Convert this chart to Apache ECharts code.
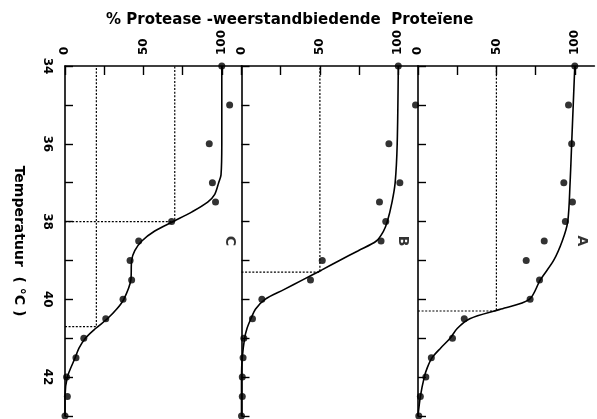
<!DOCTYPE html>
<html>
<head>
<meta charset="utf-8">
<script src="https://cdn.jsdelivr.net/npm/echarts@6/dist/echarts.min.js"></script>
<style>html,body{margin:0;padding:0;background:#fff;}#c{width:597px;height:419px;}</style>
</head>
<body>
<div id="c"></div>
<script>
// ---- data ----
const titleText = '% Protease -weerstandbiedende  Proteïene';
const yName = 'Temperatuur  ( °C )';
const panelNames = ['C', 'B', 'A'];
const tempTicks = [34, 36, 38, 40, 42];
const pctTicks = [0, 50, 100];
const pctMinor = [0, 25, 50, 75, 100];

// measured temperatures (°C)
const temps = [34, 35, 36, 37, 37.5, 38, 38.5, 39, 39.5, 40, 40.5, 41, 41.5, 42, 42.5, 43];
// measured % protease-resistant proteins
const pointsC = [100, 105, 92, 94, 96, 68, 47, 41.5, 42.5, 37, 26, 12, 7, 1, 1.5, 0];
const pointsB = [100, 111, 94, 101, 88, 92, 89, 51.5, 44, 13, 7, 1.5, 1, 0.5, 0.5, 0];
const pointsA = [100, 96, 98, 93, 98.5, 94, 80.5, 69, 77.5, 71.5, 29.5, 22, 8.5, 5, 1.5, 0.5];

// fitted curves
const curveTempsC = [34, 35, 36, 36.8, 37, 37.3, 37.5, 37.75, 38, 38.25, 38.5, 38.75, 39, 39.5, 40, 40.25, 40.5, 40.75, 41, 41.25, 41.5, 42, 42.5, 43];
const curveC = [100, 100, 100, 99.5, 98, 95.5, 91, 81, 69, 57, 49, 44.5, 42.5, 42, 37.5, 33, 27, 19.5, 13, 9, 6.5, 1.5, 0, 0];
const curveTempsB = [34, 36, 37, 37.5, 38, 38.25, 38.5, 38.75, 39, 39.25, 39.5, 39.75, 40, 40.25, 40.5, 40.75, 41, 41.5, 42, 43];
const curveB = [100, 99.3, 98, 96, 93, 90.5, 86, 74.5, 62.5, 51, 39, 27, 15, 9, 6, 3.5, 2, 0.5, 0, 0];
const curveTempsA = [34, 35, 36, 37, 38, 38.5, 39, 39.5, 40, 40.25, 40.5, 40.75, 41, 41.25, 41.5, 41.75, 42, 42.5, 43];
const curveA = [100, 99, 98, 97, 95.5, 92, 86.5, 78, 71, 53, 33, 25, 20.5, 14.5, 9, 6, 4, 1.5, 0];

// cut-off levels [percent, temperature]
const cutC = [[70, 38.0], [20, 40.7]];
const cutB = [[50, 39.3]];
const cutA = [[50, 40.3]];
const letterPos = [[105, 38.5], [103, 38.5], [104.5, 38.5]];

// ---- chart ----
const panels = [
  {pts: pointsC, ct: curveTempsC, cv: curveC, cut: cutC},
  {pts: pointsB, ct: curveTempsB, cv: curveB, cut: cutB},
  {pts: pointsA, ct: curveTempsA, cv: curveA, cut: cutA}
];
const lefts = [65, 241.5, 418];
const pW = 176.4;
const FONT = 'DejaVu Sans';
const grids = [], xAxes = [], yAxes = [], series = [];
panels.forEach((p, i) => {
  grids.push({left: lefts[i], top: 66, width: pW, height: 350});
  xAxes.push({
    gridIndex: i, type: 'value', position: 'top', min: 0, max: 112.5,
    axisLine: {show: true, lineStyle: {color: '#000', width: 1.6}},
    axisTick: {show: true, inside: true, length: 9, customValues: pctMinor, lineStyle: {color: '#000', width: 1.4}},
    axisLabel: {show: true, customValues: pctTicks, rotate: -90, margin: 11, color: '#000', fontSize: 12, fontWeight: 'bold', fontFamily: FONT},
    splitLine: {show: false}
  });
  yAxes.push({
    gridIndex: i, type: 'value', inverse: true, min: 34, max: 43, interval: 1,
    name: i === 0 ? yName : '', nameLocation: 'middle', nameRotate: -90, nameGap: 39,
    nameTextStyle: {color: '#000', fontSize: 14, fontWeight: 'bold', fontFamily: FONT},
    axisLine: {show: true, lineStyle: {color: '#000', width: 1.6}},
    axisTick: {show: true, inside: true, length: 8, lineStyle: {color: '#000', width: 1.4}},
    axisLabel: {show: i === 0, customValues: tempTicks, rotate: -90, margin: 12, color: '#000', fontSize: 12, fontWeight: 'bold', fontFamily: FONT},
    splitLine: {show: false}
  });
  p.cut.forEach(c => {
    series.push({
      type: 'line', xAxisIndex: i, yAxisIndex: i, symbol: 'none', silent: true,
      data: [[0, c[1]], [c[0], c[1]], [c[0], 34]],
      lineStyle: {color: '#000', width: 1.2, type: [2, 1.6]}
    });
  });
  series.push({
    type: 'line', xAxisIndex: i, yAxisIndex: i, symbol: 'none', smooth: 0.3,
    data: p.ct.map((t, k) => [p.cv[k], t]),
    lineStyle: {color: '#000', width: 1.6}
  });
  series.push({
    type: 'scatter', xAxisIndex: i, yAxisIndex: i, symbolSize: 7, clip: false,
    data: temps.map((t, k) => [p.pts[k], t]),
    itemStyle: {color: '#000'}
  });
  series.push({
    type: 'scatter', xAxisIndex: i, yAxisIndex: i, symbolSize: 0, clip: false,
    data: [letterPos[i]],
    label: {show: true, position: 'inside', formatter: panelNames[i], rotate: -90, color: '#000', fontSize: 14, fontWeight: 'bold', fontFamily: FONT}
  });
});

const chart = echarts.init(document.getElementById('c'), null, {renderer: 'canvas'});
chart.setOption({
  animation: false,
  backgroundColor: '#fff',
  title: {text: titleText, left: 101, top: 8, textStyle: {color: '#000', fontSize: 15, fontWeight: 'bold', fontFamily: FONT}},
  grid: grids, xAxis: xAxes, yAxis: yAxes, series: series
});
</script>
</body>
</html>
